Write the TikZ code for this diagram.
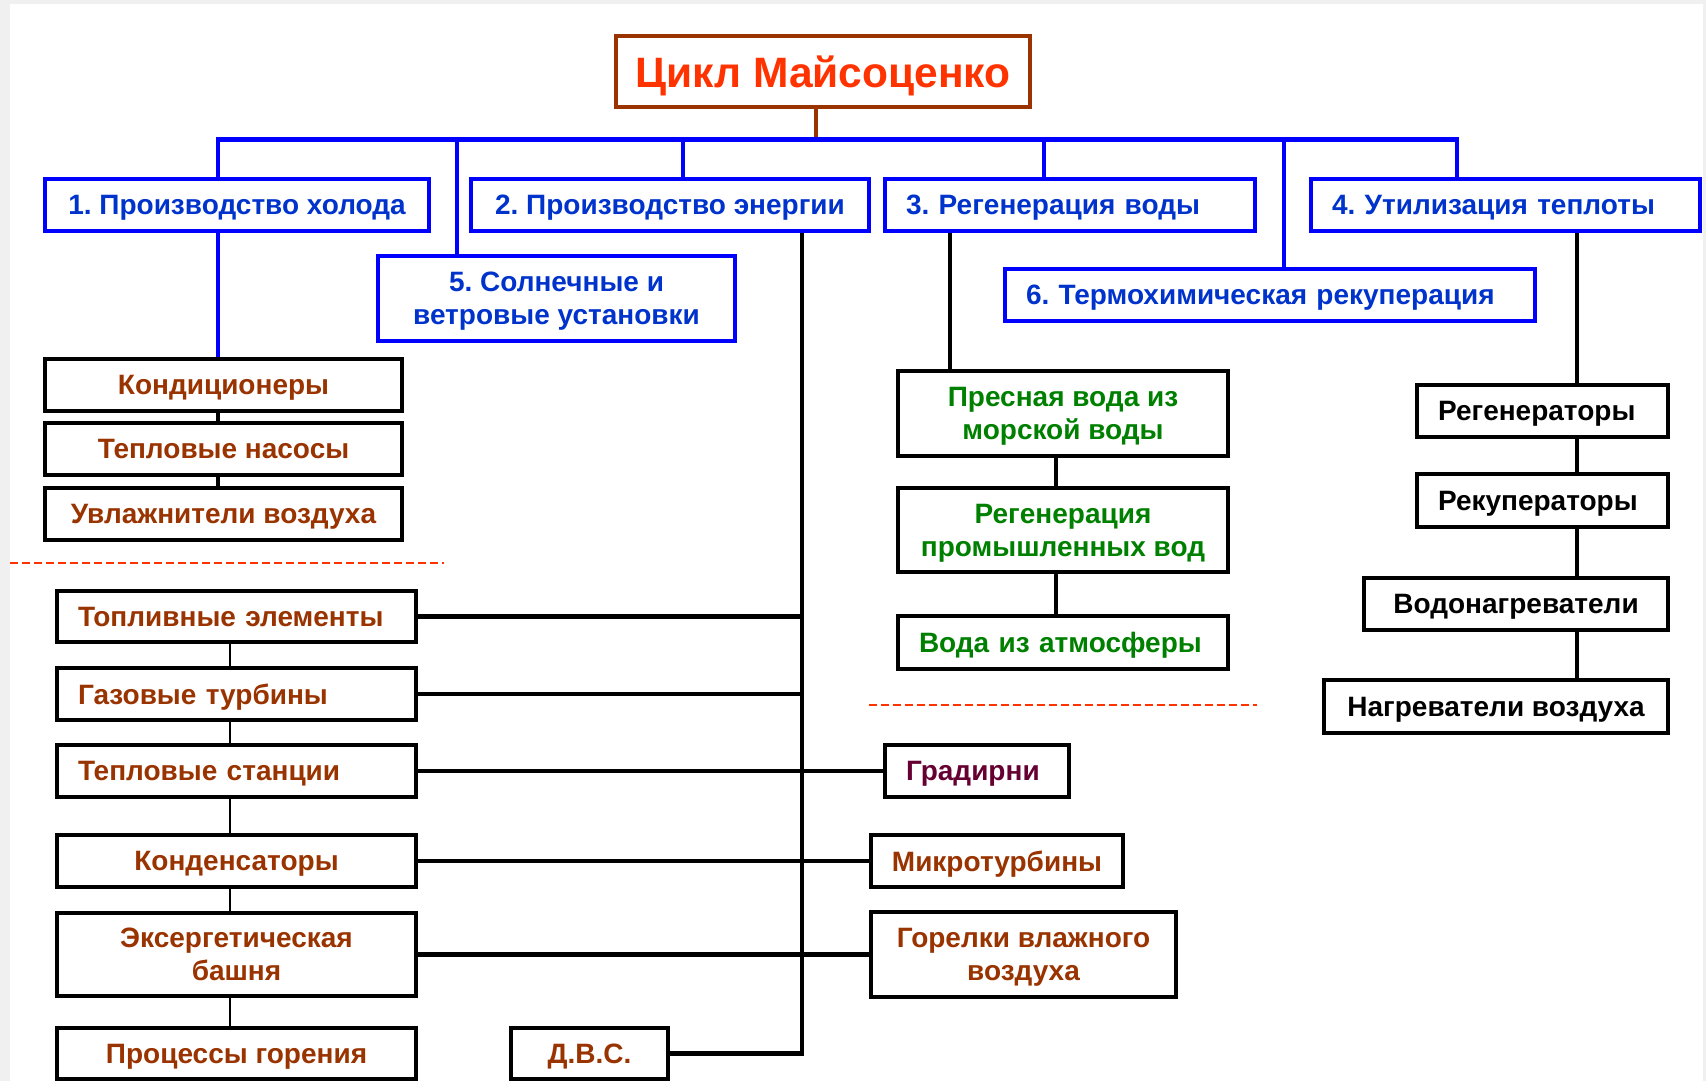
\documentclass[tikz,border=0pt]{standalone}
\usepackage{fontspec}
\setmainfont{Liberation Sans}
\usetikzlibrary{backgrounds}
\definecolor{boxblue}{RGB}{0,0,255}
\definecolor{txtblue}{RGB}{0,51,204}
\definecolor{titlered}{RGB}{255,51,0}
\definecolor{brownc}{RGB}{153,51,0}
\definecolor{greenc}{RGB}{0,128,0}
\definecolor{maroonc}{RGB}{102,0,51}
\definecolor{pagegray}{RGB}{240,240,240}
\tikzset{
  base/.style={draw, line width=4.5pt, fill=white, inner sep=0pt, align=center, text depth=-4pt,
    font=\frenchspacing\bfseries\fontsize{28}{33}\selectfont},
  bluebox/.style={base, draw=boxblue, text=txtblue},
  blackbox/.style={base, draw=black},
  brownbox/.style={blackbox, text=brownc},
  greenbox/.style={blackbox, text=greenc},
  titlebox/.style={base, draw=brownc, text=titlered, text depth=0pt, font=\frenchspacing\bfseries\fontsize{42.5}{48}\selectfont},
  leftal/.style={text width=#1, align=left},
  blueline/.style={draw=boxblue, line width=4.5pt},
  conn/.style={draw=black, line width=4.5pt},
  thinconn/.style={draw=black, line width=1.5pt},
  brownline/.style={draw=brownc, line width=4.5pt},
  reddash/.style={draw=titlered, line width=1.5pt, dash pattern=on 7.5pt off 4.5pt}
}
\begin{document}
\begin{tikzpicture}[x=1pt,y=-1pt]
\useasboundingbox (0,0) rectangle (1706,1081);
% title
\node[titlebox, minimum width=414, minimum height=71] (title) at (823,71.5) {Цикл Майсоценко};
% first level
\node[bluebox, minimum width=384, minimum height=52] (b1) at (237,205) {1. Производство холода};
\node[bluebox, minimum width=398, minimum height=52] (b2) at (670,205) {2. Производство энергии};
\node[bluebox, minimum width=370, minimum height=52, leftal=328] (b3) at (1070,205) {3. Регенерация воды};
\node[bluebox, minimum width=389, minimum height=52, leftal=347] (b4) at (1505.5,205) {4. Утилизация теплоты};
\node[bluebox, minimum width=357, minimum height=85] (b5) at (556.5,298.5) {5. Солнечные и\\ветровые установки};
\node[bluebox, minimum width=530, minimum height=52, leftal=488] (b6) at (1270,295) {6. Термохимическая рекуперация};
% cold
\node[brownbox, minimum width=357, minimum height=52] (k1) at (223.5,385) {Кондиционеры};
\node[brownbox, minimum width=357, minimum height=52] (k2) at (223.5,449) {Тепловые насосы};
\node[brownbox, minimum width=357, minimum height=52] (k3) at (223.5,514) {Увлажнители воздуха};
% energy
\node[brownbox, minimum width=359, minimum height=51, leftal=317] (e1) at (236.5,616.5) {Топливные элементы};
\node[brownbox, minimum width=359, minimum height=52, leftal=317] (e2) at (236.5,694) {Газовые турбины};
\node[brownbox, minimum width=359, minimum height=52, leftal=317] (e3) at (236.5,771) {Тепловые станции};
\node[brownbox, minimum width=359, minimum height=52] (e4) at (236.5,861) {Конденсаторы};
\node[brownbox, minimum width=359, minimum height=83] (e5) at (236.5,954.5) {Эксергетическая\\башня};
\node[brownbox, minimum width=359, minimum height=51] (e6) at (236.5,1053.5) {Процессы горения};
\node[brownbox, minimum width=157, minimum height=51] (dvs) at (589.5,1053.5) {Д.В.С.};
\node[blackbox, text=maroonc, minimum width=184, minimum height=52, leftal=142] (g) at (977,771) {Градирни};
\node[brownbox, minimum width=252, minimum height=52] (m) at (997,861) {Микротурбины};
\node[brownbox, minimum width=305, minimum height=85] (h) at (1023.5,954.5) {Горелки влажного\\воздуха};
% water
\node[greenbox, minimum width=330, minimum height=85] (w1) at (1063,413.5) {Пресная вода из\\морской воды};
\node[greenbox, minimum width=330, minimum height=84] (w2) at (1063,530) {Регенерация\\промышленных вод};
\node[greenbox, minimum width=330, minimum height=53, leftal=288] (w3) at (1063,642.5) {Вода из атмосферы};
% heat
\node[blackbox, minimum width=251, minimum height=52, leftal=209] (r1) at (1542.5,411) {Регенераторы};
\node[blackbox, minimum width=251, minimum height=53, leftal=209] (r2) at (1542.5,500.5) {Рекуператоры};
\node[blackbox, minimum width=304, minimum height=52] (r3) at (1516,604) {Водонагреватели};
\node[blackbox, minimum width=344, minimum height=53] (r4) at (1496,706.5) {Нагреватели воздуха};
% coordinates
\coordinate (tj) at (816,139.5);
\coordinate (v1) at (218,139.5);
\coordinate (v5) at (457,139.5);
\coordinate (v2) at (683,139.5);
\coordinate (v3) at (1044,139.5);
\coordinate (v6) at (1284,139.5);
\coordinate (v4) at (1457,139.5);
\coordinate (trunk) at (802,0);
\coordinate (ecx) at (230,0);
\coordinate (wx) at (950,0);
\coordinate (wcx) at (1056,0);
\coordinate (hx) at (1577,0);
\begin{scope}[on background layer]
\fill[pagegray] (0,0) rectangle (1706,1081);
\fill[white] (10,4) rectangle (1703,1081);
\draw[brownline] (title.south -| tj) -- (tj);
\draw[blueline] (v1 |- b1.north) -- (v1) -- (v4) -- (v4 |- b4.north);
\draw[blueline] (v5) -- (v5 |- b5.north);
\draw[blueline] (v2) -- (v2 |- b2.north);
\draw[blueline] (v3) -- (v3 |- b3.north);
\draw[blueline] (v6) -- (v6 |- b6.north);
\draw[blueline] (b1.south -| v1) -- (k1.north -| v1);
\draw[conn] (k1.south -| v1) -- (k2.north -| v1);
\draw[conn] (k2.south -| v1) -- (k3.north -| v1);
% energy trunk
\draw[conn] (b2.south -| trunk) -- (trunk |- dvs.east) -- (dvs.east);
\draw[conn] (e1.east) -- (e1.east -| trunk);
\draw[conn] (e2.east) -- (e2.east -| trunk);
\draw[conn] (e3.east) -- (g.west);
\draw[conn] (e4.east) -- (m.west);
\draw[conn] (e5.east) -- (h.west);
\draw[thinconn] (e1.south -| ecx) -- (e2.north -| ecx);
\draw[thinconn] (e2.south -| ecx) -- (e3.north -| ecx);
\draw[thinconn] (e3.south -| ecx) -- (e4.north -| ecx);
\draw[thinconn] (e4.south -| ecx) -- (e5.north -| ecx);
\draw[thinconn] (e5.south -| ecx) -- (e6.north -| ecx);
% water
\draw[conn] (b3.south -| wx) -- (w1.north -| wx);
\draw[conn] (w1.south -| wcx) -- (w2.north -| wcx);
\draw[conn] (w2.south -| wcx) -- (w3.north -| wcx);
% heat
\draw[conn] (b4.south -| hx) -- (r1.north -| hx);
\draw[conn] (r1.south -| hx) -- (r2.north -| hx);
\draw[conn] (r2.south -| hx) -- (r3.north -| hx);
\draw[conn] (r3.south -| hx) -- (r4.north -| hx);
\end{scope}
% dashed separators
\draw[reddash] (10,563) -- (444,563);
\draw[reddash] (869,705) -- (1257,705);
\end{tikzpicture}
\end{document}
